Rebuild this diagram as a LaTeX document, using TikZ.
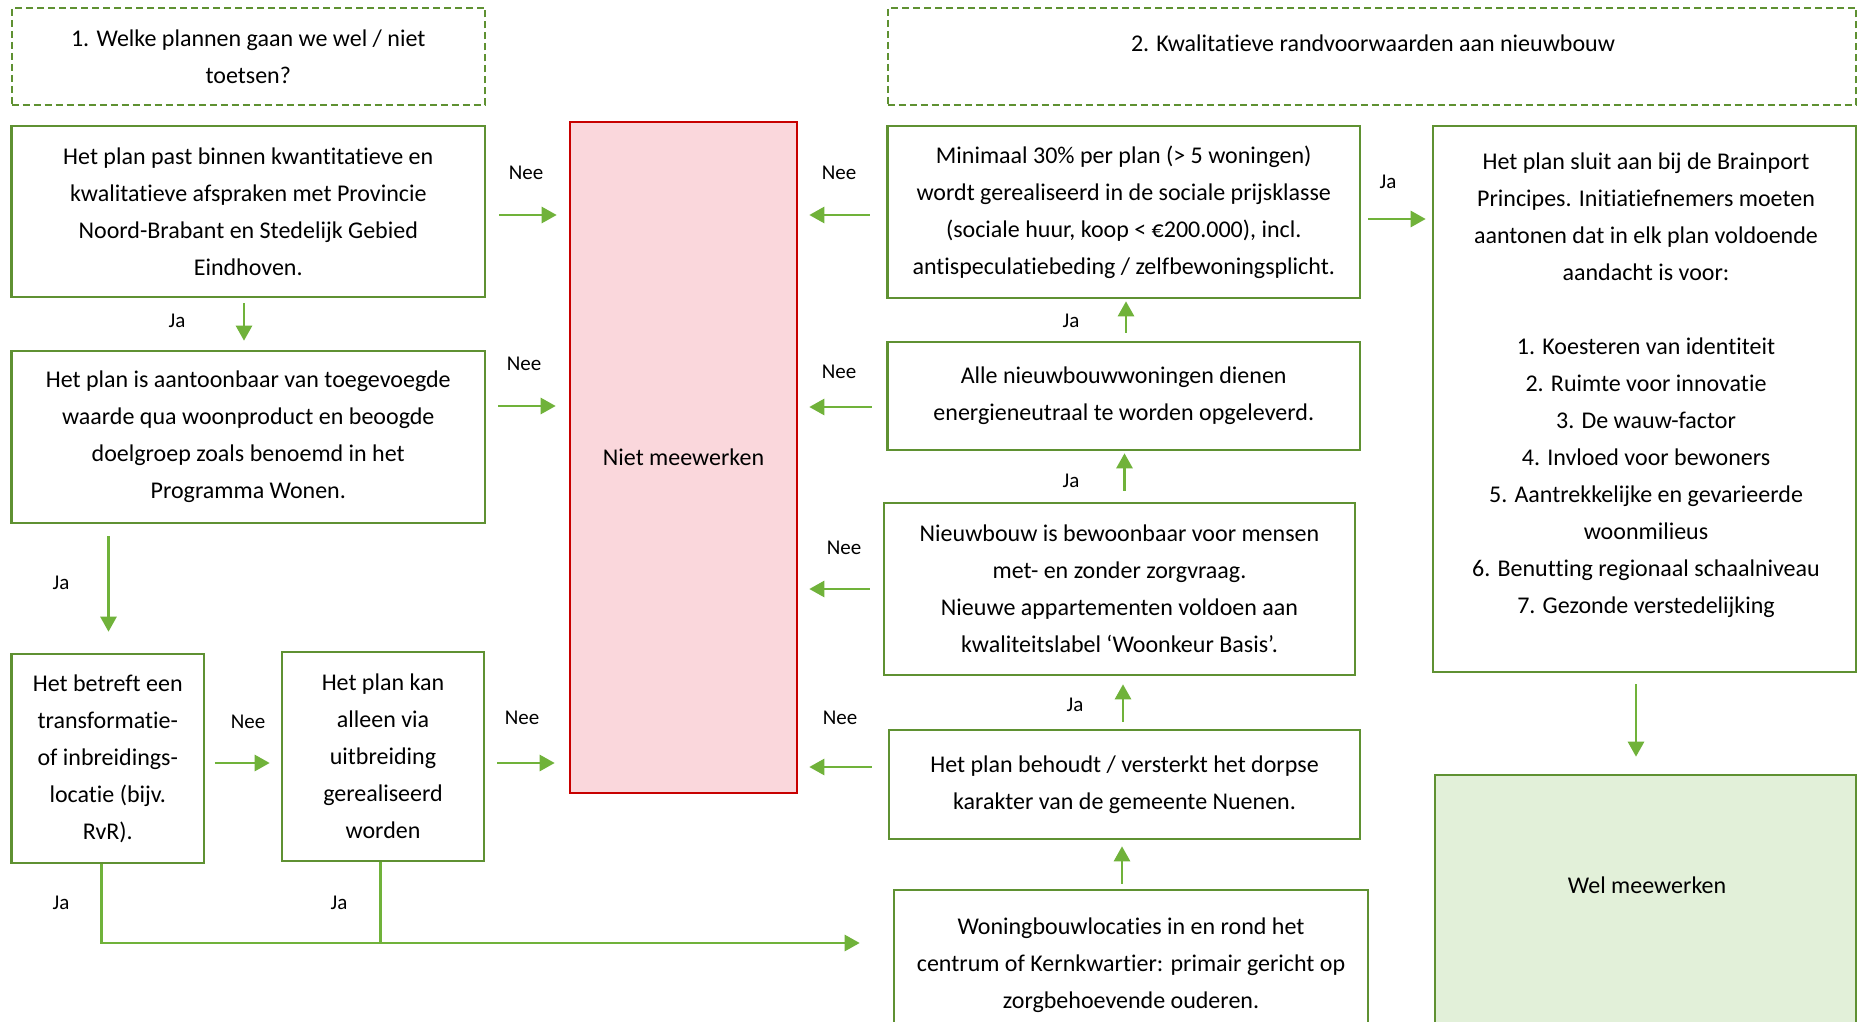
\documentclass[tikz,border=0pt]{standalone}
\usepackage{fontspec}
\setmainfont{Carlito}[Ligatures=NoCommon]
\usetikzlibrary{arrows.meta}
\definecolor{bx}{RGB}{95,145,50}
\definecolor{ar}{RGB}{112,178,58}
\definecolor{nred}{RGB}{200,0,0}
\definecolor{npink}{RGB}{250,215,220}
\definecolor{wgreen}{RGB}{226,240,217}
\begin{document}
\begin{tikzpicture}[x=1pt,y=-1pt,
 box/.style={draw=bx, line width=2.6pt, align=center, inner sep=0pt, font=\fontsize{24}{37}\selectfont},
 dbox/.style={box, line width=2pt, dash pattern=on 7pt off 4pt},
 txt/.style={align=center, inner sep=0pt, font=\fontsize{24}{37}\selectfont},
 lbl/.style={inner sep=0pt, font=\fontsize{21}{25}\selectfont},
 arr/.style={draw=ar, line width=2.6pt, -{Triangle[length=15pt,width=16pt]}},
 ln/.style={draw=ar, line width=2.6pt},
]
\useasboundingbox (0,0) rectangle (1858,1022);
\fill[white] (0,0) rectangle (1858,1022);

% headers
\node[dbox, minimum width=473.5pt, minimum height=97pt] (d1) at (248.25,56.5) {1. Welke plannen gaan we wel / niet\\toetsen?};
\node[dbox, minimum width=968.5pt, minimum height=97pt] (d2) at (1371.75,56.5) {};
\node[txt] (d2t) at (1373,43) {2. Kwalitatieve randvoorwaarden aan nieuwbouw};

% left column
\node[box, minimum width=473.5pt, minimum height=171pt] (A) at (248.25,211.5) {Het plan past binnen kwantitatieve en\\kwalitatieve afspraken met Provincie\\Noord-Brabant en Stedelijk Gebied\\Eindhoven.};
\node[box, minimum width=473.5pt, minimum height=172pt] (B) at (248.25,437) {Het plan is aantoonbaar van toegevoegde\\waarde qua woonproduct en beoogde\\doelgroep zoals benoemd in het\\Programma Wonen.};
\node[box, minimum width=192.5pt, minimum height=209pt] (C) at (107.75,758.5) {Het betreft een\\transformatie-\\of inbreidings-\\locatie (bijv.\\RvR).};
\node[box, minimum width=202pt, minimum height=209pt] (D) at (383,756.5) {Het plan kan\\alleen via\\uitbreiding\\gerealiseerd\\worden};

% niet meewerken
\node[box, draw=nred, fill=npink, minimum width=227pt, minimum height=671pt] (N) at (683.5,457.5) {Niet meewerken};

% right middle column
\node[box, minimum width=472.5pt, minimum height=172pt] (E) at (1123.75,212) {Minimaal 30\% per plan (> 5 woningen)\\wordt gerealiseerd in de sociale prijsklasse\\(sociale huur, koop < €200.000), incl.\\antispeculatiebeding / zelfbewoningsplicht.};
\node[box, minimum width=472.5pt, minimum height=108pt] (G) at (1123.75,396) {Alle nieuwbouwwoningen dienen\\energieneutraal te worden opgeleverd.};
\node[box, minimum width=471pt, minimum height=172pt] (H) at (1119.5,589) {Nieuwbouw is bewoonbaar voor mensen\\met- en zonder zorgvraag.\\Nieuwe appartementen voldoen aan\\kwaliteitslabel ‘Woonkeur Basis’.};
\node[box, minimum width=471pt, minimum height=109pt] (I) at (1124.5,784.5) {Het plan behoudt / versterkt het dorpse\\karakter van de gemeente Nuenen.};
\node[box, minimum width=474pt, minimum height=150pt] (J) at (1131,965) {Woningbouwlocaties in en rond het\\centrum of Kernkwartier: primair gericht op\\zorgbehoevende ouderen.};

% far right
\node[box, minimum width=423pt, minimum height=546pt] (F) at (1644.5,399) {};
\node[txt] (Ft) at (1646,385.5) {Het plan sluit aan bij de Brainport\\Principes. Initiatiefnemers moeten\\aantonen dat in elk plan voldoende\\aandacht is voor:\\[37pt]1. Koesteren van identiteit\\2. Ruimte voor innovatie\\3. De wauw-factor\\4. Invloed voor bewoners\\5. Aantrekkelijke en gevarieerde\\woonmilieus\\6. Benutting regionaal schaalniveau\\7. Gezonde verstedelijking};
\node[box, fill=wgreen, minimum width=421pt, minimum height=325pt] (K) at (1645.5,937.5) {};
\node[txt] (Kt) at (1647,885) {Wel meewerken};

% arrows to Niet meewerken
\draw[arr, shorten <=13pt, shorten >=12pt] (A.east |- 0,215) -- (N.west |- 0,215);
\draw[arr, shorten <=12pt, shorten >=13pt] (B.east |- 0,406) -- (N.west |- 0,406);
\draw[arr, shorten <=12pt, shorten >=14pt] (D.east |- 0,763) -- (N.west |- 0,763);
\draw[arr, shorten <=9.5pt, shorten >=11pt] (C.east |- 0,763) -- (D.west |- 0,763);
\draw[arr, shorten <=16.5pt, shorten >=11pt] (E.west |- 0,215) -- (N.east |- 0,215);
\draw[arr, shorten <=14.5pt, shorten >=11pt] (G.west |- 0,407) -- (N.east |- 0,407);
\draw[arr, shorten <=13pt, shorten >=11pt] (H.west |- 0,589) -- (N.east |- 0,589);
\draw[arr, shorten <=16pt, shorten >=11pt] (I.west |- 0,767) -- (N.east |- 0,767);

% vertical arrows
\draw[arr, shorten <=5pt, shorten >=9pt] (A.south -| 244,0) -- (B.north -| 244,0);
\draw[arr, shorten <=12pt, shorten >=21pt] (B.south -| 108.5,0) -- (C.north -| 108.5,0);
\draw[arr, shorten <=8pt, shorten >=2pt] (G.north -| 1126,0) -- (E.south -| 1126,0);
\draw[arr, shorten <=11pt, shorten >=2pt] (H.north -| 1124.5,0) -- (G.south -| 1124.5,0);
\draw[arr, shorten <=7pt, shorten >=8pt] (I.north -| 1123,0) -- (H.south -| 1123,0);
\draw[arr, shorten <=5pt, shorten >=6pt] (J.north -| 1122,0) -- (I.south -| 1122,0);
\draw[arr, shorten <=7pt, shorten >=6pt] (E.east |- 0,219) -- (F.west |- 0,219);
\draw[arr, shorten <=11pt, shorten >=17pt] (F.south -| 1636,0) -- (K.north -| 1636,0);

% Ja connectors to J
\coordinate (jn) at (380.6,943);
\draw[arr, shorten >=33pt] (C.south -| 101.6,0) |- (J.west |- 0,943);
\draw[ln] (D.south -| 380.6,0) -- (jn);

% labels
\node[lbl] (n1) at (526,173) {Nee};
\node[lbl] (n2) at (524,364) {Nee};
\node[lbl] (n3) at (248,722) {Nee};
\node[lbl] (n4) at (522,718) {Nee};
\node[lbl] (n5) at (839,173) {Nee};
\node[lbl] (n6) at (839,372) {Nee};
\node[lbl] (n7) at (844,548) {Nee};
\node[lbl] (n8) at (840,718) {Nee};
\node[lbl] (j1) at (177,321) {Ja};
\node[lbl] (j2) at (61,583) {Ja};
\node[lbl] (j3) at (61,903) {Ja};
\node[lbl] (j4) at (339,903) {Ja};
\node[lbl] (j5) at (1388,182) {Ja};
\node[lbl] (j6) at (1071,321) {Ja};
\node[lbl] (j7) at (1071,481) {Ja};
\node[lbl] (j8) at (1075,705) {Ja};
\end{tikzpicture}
\end{document}
